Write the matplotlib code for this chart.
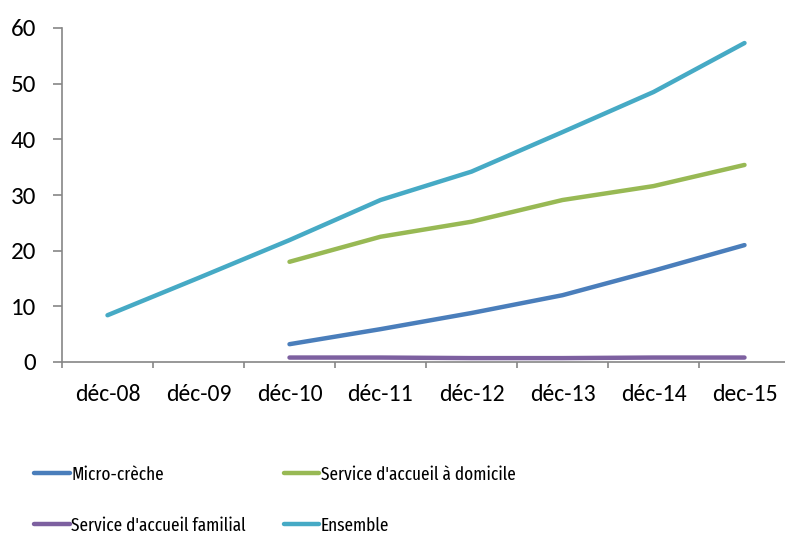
import matplotlib
matplotlib.use("Agg")
import matplotlib.pyplot as plt
import numpy as np

plt.rcParams['font.family'] = ['Carlito', 'DejaVu Sans']

categories = ["déc-08", "déc-09", "déc-10", "déc-11", "déc-12", "déc-13", "déc-14", "dec-15"]
micro_creche = [np.nan, np.nan, 3.2, 5.9, 8.8, 12.0, 16.4, 21.0]
accueil_domicile = [np.nan, np.nan, 18.0, 22.5, 25.2, 29.1, 31.6, 35.4]
accueil_familial = [np.nan, np.nan, 0.8, 0.8, 0.7, 0.7, 0.8, 0.8]
ensemble = [8.4, 15.1, 21.9, 29.1, 34.2, 41.3, 48.5, 57.3]

colors = {
    "micro": "#4A7EBB",
    "domicile": "#98B954",
    "familial": "#7D60A0",
    "ensemble": "#46AAC5",
}

fig = plt.figure(figsize=(7.85, 5.34), dpi=100)
ax = fig.add_axes([62 / 785, 1 - 362 / 534, 728 / 785, 334 / 534])

x = np.arange(len(categories))
lw = 3.2
l_micro, = ax.plot(x, micro_creche, color=colors["micro"], lw=lw, solid_capstyle="round", label="Micro-crèche")
l_dom, = ax.plot(x, accueil_domicile, color=colors["domicile"], lw=lw, solid_capstyle="round", label="Service d'accueil à domicile")
l_fam, = ax.plot(x, accueil_familial, color=colors["familial"], lw=lw, solid_capstyle="round", label="Service d'accueil familial")
l_ens, = ax.plot(x, ensemble, color=colors["ensemble"], lw=lw, solid_capstyle="round", label="Ensemble")

ax.set_xlim(-0.5, len(categories) - 0.5)
ax.set_ylim(0, 60)
ax.set_yticks(np.arange(0, 61, 10))
ax.set_xticks(x)
ax.set_xticklabels(categories)
ax.set_xticks(np.arange(-0.5, len(categories), 1.0), minor=True)
ax.tick_params(axis="x", which="major", length=0, pad=16, labelsize=17)
ax.tick_params(axis="x", which="minor", length=4.5, width=1.2, color="#868686", direction="out")
ax.tick_params(axis="y", length=6.5, width=1.2, color="#868686", direction="out", labelsize=18, pad=12)

for side in ("top", "right"):
    ax.spines[side].set_visible(False)
for side in ("left", "bottom"):
    ax.spines[side].set_color("#868686")
    ax.spines[side].set_linewidth(1.2)

handles = [l_micro, l_fam, l_dom, l_ens]
leg = fig.legend(handles, [h.get_label() for h in handles], ncol=2,
                 loc="upper left", bbox_to_anchor=(17 / 785, 1 - 449 / 534),
                 frameon=False, handlelength=1.9, handletextpad=0.1,
                 columnspacing=2.0, labelspacing=1.75,
                 prop={"family": ["Fira Sans Extra Condensed", "Carlito"], "size": 13.5})

fig.savefig("out.png", dpi=100)
